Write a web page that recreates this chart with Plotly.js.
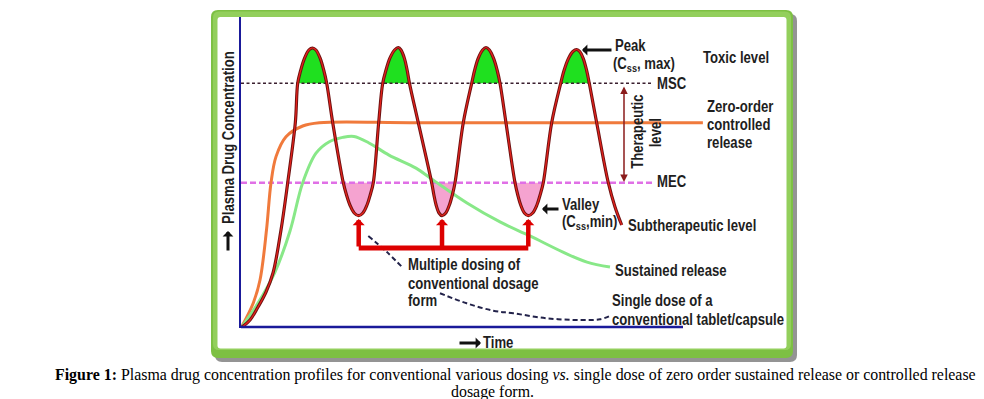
<!DOCTYPE html>
<html><head><meta charset="utf-8">
<script src="https://cdn.plot.ly/plotly-3.0.1.min.js"></script>
<style>html,body{margin:0;padding:0;background:#fff;}</style>
</head><body><div id="chart" style="width:984px;height:399px;"></div>
<script>
// ---- data (time: 0..100 = length of time axis, concentration: 0..100 = axis height) ----
const multiT = [0.11, 2.04, 3.85, 5.66, 7.24, 9.05, 10.57, 12.29, 12.83, 13.53, 14.34, 15.36, 16.18, 16.95, 17.94, 18.71, 19.39, 20.75,
  23.14, 23.87, 24.64, 25.61, 26.63, 27.58, 28.51, 29.23, 29.93, 31.15, 32.06, 32.81, 33.64, 34.75, 35.59, 36.20, 36.99, 37.58, 38.12, 40.11,
  43.14, 43.64, 44.14, 44.80, 45.48, 46.33, 47.15, 47.81, 48.42, 50.29, 52.19, 52.87, 53.64, 54.66, 55.43, 56.20, 57.17, 57.94, 58.60, 59.95,
  61.99, 62.62, 63.28, 64.12, 65.00, 65.99, 66.95, 67.67, 68.39, 70.29, 72.33, 73.12, 74.07, 75.09, 75.95, 76.63, 77.44, 78.17, 78.80, 80.47,
  83.10, 84.62, 86.13];
const multiC = [0.16, 2.57, 6.75, 11.58, 17.68, 31.51, 46.72, 66.01, 78.68, 82.96, 86.62, 89.39, 90.03, 89.39, 86.62, 82.96, 78.68, 66.01,
  46.72, 42.77, 39.55, 36.98, 36.11, 36.98, 39.55, 42.77, 46.72, 66.01, 78.68, 82.96, 86.62, 89.39, 90.19, 89.39, 86.62, 82.96, 78.68, 66.01,
  46.72, 42.77, 39.55, 36.98, 36.11, 36.98, 39.55, 42.77, 46.72, 66.01, 78.68, 82.96, 86.62, 89.39, 90.19, 89.39, 86.62, 82.96, 78.68, 66.01,
  46.72, 42.77, 39.55, 36.98, 36.11, 36.98, 39.55, 42.77, 46.72, 66.01, 78.68, 82.96, 86.62, 88.91, 89.55, 88.91, 86.62, 82.96, 78.68, 66.01,
  46.72, 38.91, 33.12];
const zeroT = [0, 2.78, 4.3, 5.77, 6.79, 7.92, 10.18, 13.96, 17.71, 40.0, 104.5];
const zeroC = [0, 8.04, 15.43, 31.5, 46.7, 55.1, 61.5, 64.95, 66.0, 66.0, 66.0];
const sustT = [0, 3.85, 7.69, 11.09, 13.96, 16.97, 19.98, 23.01, 25.57, 28.96, 33.48, 39.59, 43.44, 51.13, 58.6, 65.38, 72.85, 78.28, 83.48];
const sustC = [0, 8.04, 18.0, 31.2, 46.7, 56.2, 59.9, 61.3, 61.6, 59.5, 55.6, 51.4, 47.6, 40.2, 34.1, 29.6, 24.4, 21.2, 19.6];
const singleT = [28.8, 32.96, 36.72, null, 45.02, 51.06, 57.08, 61.61, 69.16, 76.7, 81.22, 83.48];
const singleC = [29.6, 24.5, 19.2, null, 11.16, 7.94, 5.56, 4.73, 3.12, 2.57, 2.8, 3.86];
const MSC = 78.68;         // minimum safe (toxic) concentration
const MEC = 46.72;         // minimum effective concentration
const levelT = [0, 93.2];  // extent of the MSC / MEC reference lines
const bracketC = 25.7;     // level of the "multiple dosing" bracket

// ---- geometry helpers (pixel -> paper) ----
const PL = 241, PR = 788, PT = 17, PB = 328;
const px = x => (x - PL) / (PR - PL);
const py = y => (PB - y) / (PB - PT);
const LAB = 'Liberation Sans, Arial, sans-serif';
const TXT = '#1e1e1e';
const NARROW = 0.82;

function rr(x0, y0, x1, y1, r) {
  const X = px, Y = py;
  return `M${X(x0 + r)},${Y(y0)} L${X(x1 - r)},${Y(y0)} Q${X(x1)},${Y(y0)} ${X(x1)},${Y(y0 + r)} ` +
    `L${X(x1)},${Y(y1 - r)} Q${X(x1)},${Y(y1)} ${X(x1 - r)},${Y(y1)} L${X(x0 + r)},${Y(y1)} ` +
    `Q${X(x0)},${Y(y1)} ${X(x0)},${Y(y1 - r)} L${X(x0)},${Y(y0 + r)} Q${X(x0)},${Y(y0)} ${X(x0 + r)},${Y(y0)} Z`;
}

// ---- fills above MSC / below MEC derived from the multiple-dosing curve ----
function segments(pred, level) {
  const segs = []; let cur = [];
  for (let i = 0; i < multiT.length; i++) {
    if (pred(multiC[i])) cur.push(i); else { if (cur.length) segs.push(cur); cur = []; }
  }
  if (cur.length) segs.push(cur);
  return segs.filter(s => Math.abs(multiC[s[0]] - level) < 0.05 && Math.abs(multiC[s[s.length - 1]] - level) < 0.05 && s.length > 2);
}
const traces = [];
segments(c => c >= MSC - 0.01, MSC).forEach(s => traces.push({
  x: s.map(i => multiT[i]), y: s.map(i => multiC[i]), mode: 'lines', fill: 'toself',
  fillcolor: '#1fe01f', line: {width: 0, shape: 'spline'}, hoverinfo: 'skip', showlegend: false}));
segments(c => c <= MEC + 0.01, MEC).forEach(s => traces.push({
  x: s.map(i => multiT[i]), y: s.map(i => multiC[i]), mode: 'lines', fill: 'toself',
  fillcolor: '#f5a3d0', line: {width: 0, shape: 'spline'}, hoverinfo: 'skip', showlegend: false}));

traces.push(
  {x: levelT, y: [MSC, MSC], mode: 'lines', line: {color: '#3a1f2f', width: 1.6, dash: '3px,2.5px'}, showlegend: false},
  {x: levelT, y: [MEC, MEC], mode: 'lines', line: {color: '#e070e6', width: 2.4, dash: '6px,3px'}, showlegend: false},
  {x: zeroT, y: zeroC, mode: 'lines', line: {color: '#f07a3c', width: 3, shape: 'spline'}, showlegend: false},
  {x: sustT, y: sustC, mode: 'lines', line: {color: '#88e888', width: 3, shape: 'spline'}, showlegend: false},
  {x: singleT, y: singleC, mode: 'lines', connectgaps: false, line: {color: '#22224a', width: 2, dash: '5px,3px', shape: 'spline'}, showlegend: false},
  {x: multiT, y: multiC, mode: 'lines', line: {color: '#6e1212', width: 3.2, shape: 'spline'}, showlegend: false},
  {x: multiT, y: multiC, mode: 'lines', line: {color: '#e8231c', width: 1.2, shape: 'spline'}, showlegend: false}
);

// valleys (local minima of the multiple-dosing curve) -> red arrows
const valleys = [];
for (let i = 1; i < multiC.length - 1; i++) if (multiC[i] < multiC[i - 1] && multiC[i] < multiC[i + 1]) valleys.push(i);

const ann = [];
function lab(text, x, y, o = {}) {
  ann.push(Object.assign({text, xref: 'paper', yref: 'paper', x: px(x), y: py(y), xanchor: 'left', yanchor: 'middle', align: 'left',
    showarrow: false, font: {family: LAB, size: 16, color: TXT, weight: 'bold'}}, o));
}
function arrow(hx, hy, ax, ay, o = {}) {
  ann.push(Object.assign({text: '', xref: 'paper', yref: 'paper', x: px(hx), y: py(hy), ax, ay, showarrow: true,
    arrowhead: 1, arrowsize: 0.6, arrowwidth: 3, arrowcolor: '#111', standoff: 0, startstandoff: 0}, o));
}
lab('Peak', 613, 46);
lab('(C<sub>ss</sub>, max)', 611, 64);
lab('Toxic level', 701, 57.5);
lab('MSC', 655, 83);
lab('Zero-order', 705, 106);
lab('controlled', 705, 124);
lab('release', 705, 142.5);
lab('Therapeutic', 637.5, 131.5, {xanchor: 'center', align: 'center', textangle: -90});
lab('level', 656, 132.5, {xanchor: 'center', align: 'center', textangle: -90});
lab('MEC', 655, 181);
lab('Valley', 560, 204);
lab('(C<sub>ss</sub>,min)', 560, 222);
lab('Subtherapeutic level', 626, 225.5);
lab('Sustained release', 613, 270);
lab('Single dose of a', 610, 300);
lab('conventional tablet/capsule', 610, 319.5);
lab('Multiple dosing of', 406, 264);
lab('conventional dosage', 406, 283);
lab('form', 406, 300.5);
lab('Time', 481, 342);
lab('Plasma Drug Concentration', 228.5, 137.5, {xanchor: 'center', align: 'center', textangle: -90});
const CAP = {family: 'Liberation Serif, Times New Roman, serif', size: 15.9, color: '#000'};
lab('<b>Figure 1:</b> Plasma drug concentration profiles for conventional various dosing <i>vs.</i> single dose of zero order sustained release or controlled release',
  55, 375, {font: CAP, borderpad: 0, borderwidth: 0});
lab('dosage form.', 492, 391.5, {xanchor: 'center', align: 'center', font: CAP, borderpad: 0, borderwidth: 0});

arrow(582, 50, 31, 0);
arrow(542, 209, 18, 0);
arrow(481, 343, -23, 0);
arrow(228, 231, 0, 21);
arrow(624, 182, 0, -97, {arrowside: 'end+start', arrowwidth: 1.5, arrowcolor: '#8b1c1c', arrowhead: 2, arrowsize: 1});
valleys.forEach(i => ann.push({text: '', xref: 'x', yref: 'y', x: multiT[i], y: multiC[i] - 1.1, ax: 0, ay: 29,
  showarrow: true, arrowhead: 1, arrowsize: 0.45, arrowwidth: 4.5, arrowcolor: '#dd0000', standoff: 0, startstandoff: 0}));

const shapes = [
  {type: 'path', xref: 'paper', yref: 'paper', layer: 'below', path: rr(215, 14, 797, 362, 7), fillcolor: 'rgba(60,60,60,0.55)', line: {width: 0}},
  {type: 'path', xref: 'paper', yref: 'paper', layer: 'below', path: rr(211, 10, 793, 358, 7), fillcolor: '#7dc043', line: {width: 0}},
  {type: 'path', xref: 'paper', yref: 'paper', layer: 'below', path: rr(213, 11.5, 791, 350, 6), fillcolor: '#93cf5c', line: {width: 0}},
  {type: 'path', xref: 'paper', yref: 'paper', layer: 'below', path: rr(217.5, 17, 786.5, 348.5, 3), fillcolor: '#ffffff', line: {width: 0}},
  {type: 'line', xref: 'paper', yref: 'paper', x0: px(241), x1: px(683), y0: py(327), y1: py(327), line: {color: '#1a1a9a', width: 2.5}},
  {type: 'line', xref: 'x', yref: 'y', x0: multiT[valleys[0]], x1: multiT[valleys[valleys.length - 1]], y0: bracketC, y1: bracketC,
    line: {color: '#dd0000', width: 5}}
];

const layout = {
  width: 984, height: 399, margin: {l: PL, r: 984 - PR, t: PT, b: 399 - PB, pad: 0},
  paper_bgcolor: '#ffffff', plot_bgcolor: 'rgba(0,0,0,0)', showlegend: false,
  xaxis: {range: [0, (PR - PL) / 4.42], showgrid: false, zeroline: false, showticklabels: false, ticks: '', showline: false, fixedrange: true},
  yaxis: {range: [0, 100], showgrid: false, zeroline: false, showticklabels: false, ticks: '', showline: true, linecolor: '#1a1a9a', linewidth: 2.5, fixedrange: true},
  shapes, annotations: ann
};
Plotly.newPlot('chart', traces, layout, {displayModeBar: false, staticPlot: true}).then(gd => {
  // condensed look of the original label face (Arial Narrow style): narrow the sans-serif labels horizontally
  gd.querySelectorAll('.annotation-text').forEach(t => {
    if (!t.textContent.trim()) return;
    if ((t.style.fontFamily || '').indexOf('Serif') >= 0) return;
    const x = parseFloat(t.getAttribute('x')) || 0;
    const prev = t.getAttribute('transform') || '';
    t.setAttribute('transform', `${prev} translate(${x},0) scale(${NARROW},1) translate(${-x},0)`);
  });
});
</script></body></html>
